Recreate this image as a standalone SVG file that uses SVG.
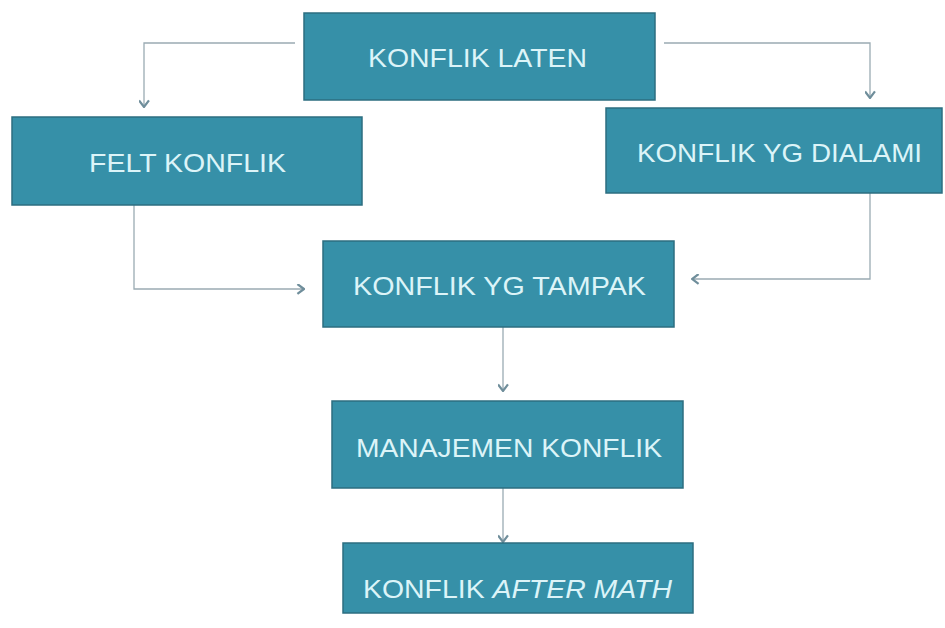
<svg xmlns="http://www.w3.org/2000/svg" width="945" height="628" viewBox="0 0 945 628">
<defs>
<marker id="chev" viewBox="0 0 10 10" refX="9" refY="5" markerWidth="11" markerHeight="11" markerUnits="userSpaceOnUse" orient="auto">
<path d="M3,0.5 L9,5 L3,9.5" fill="none" stroke="#6f8e9b" stroke-width="2"/>
</marker>
</defs>
<style>
.box{fill:#3690a8;stroke:#2c6e80;stroke-width:1.5}
.lbl{font-family:"Liberation Sans",Arial,sans-serif;font-size:25px;fill:#dcf4f8}
.con{fill:none;stroke:#9aabb3;stroke-width:1.3;marker-end:url(#chev)}
</style>
<rect width="945" height="628" fill="#ffffff"/>
<g id="connectors">
<path class="con" d="M295,43 H144 V107"/>
<path class="con" d="M664,43 H870 V98"/>
<path class="con" d="M134,205 V289 H304"/>
<path class="con" d="M870,193 V279 H692"/>
<path class="con" d="M503,327 V391"/>
<path class="con" d="M503,488 V542"/>
</g>
<g id="konflik-laten">
<rect class="box" x="304" y="13" width="351" height="87"/>
<text class="lbl" x="368" y="67" textLength="219" lengthAdjust="spacingAndGlyphs">KONFLIK LATEN</text>
</g>
<g id="felt-konflik">
<rect class="box" x="12" y="117" width="350" height="88"/>
<text class="lbl" x="89" y="172" textLength="197" lengthAdjust="spacingAndGlyphs">FELT KONFLIK</text>
</g>
<g id="konflik-yg-dialami">
<rect class="box" x="606" y="108" width="336" height="85"/>
<text class="lbl" x="637" y="162" textLength="285" lengthAdjust="spacingAndGlyphs">KONFLIK YG DIALAMI</text>
</g>
<g id="konflik-yg-tampak">
<rect class="box" x="323" y="241" width="351" height="86"/>
<text class="lbl" x="353" y="295" textLength="293" lengthAdjust="spacingAndGlyphs">KONFLIK YG TAMPAK</text>
</g>
<g id="manajemen-konflik">
<rect class="box" x="332" y="401" width="351" height="87"/>
<text class="lbl" x="356" y="457" textLength="306" lengthAdjust="spacingAndGlyphs">MANAJEMEN KONFLIK</text>
</g>
<g id="konflik-after-math">
<rect class="box" x="343" y="543" width="350" height="70"/>
<text class="lbl" x="363" y="598" textLength="309" lengthAdjust="spacingAndGlyphs">KONFLIK <tspan font-style="italic">AFTER MATH</tspan></text>
</g>
</svg>
